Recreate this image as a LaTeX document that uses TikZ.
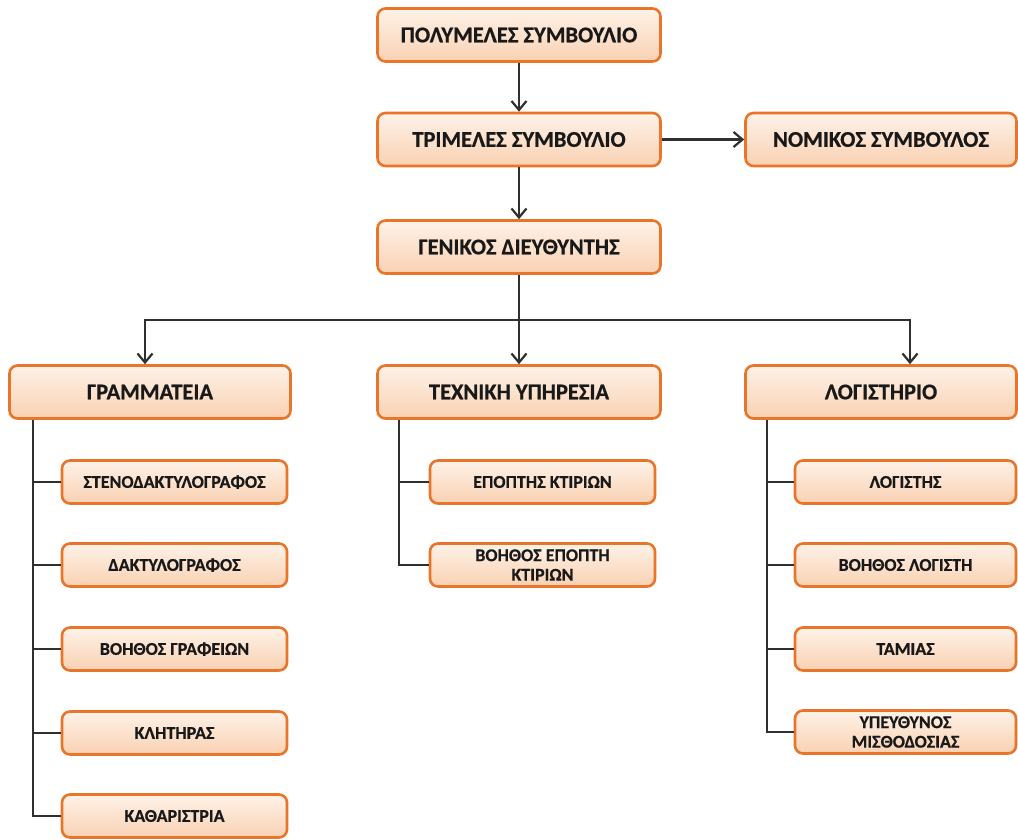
\documentclass[tikz,border=0pt]{standalone}
\usepackage{fontspec}
\setmainfont{Carlito}
\newfontfamily\heavyfont{Carlito}[BoldFeatures={FakeBold=0.6}]
\usetikzlibrary{arrows.meta,positioning}

\definecolor{boxline}{HTML}{E8752A}
\definecolor{boxtop}{HTML}{FEF2E8}
\definecolor{boxbot}{HTML}{F9D1B2}
\definecolor{wire}{HTML}{303030}

\tikzset{
  unit/.style={draw=boxline, line width=2.6pt, rounded corners=8pt,
    top color=boxtop, bottom color=boxbot, text=black!90,
    font=\fontsize{22.5}{24}\heavyfont\bfseries,
    minimum width=283pt, minimum height=53pt, inner sep=2pt},
  post/.style={unit, font=\fontsize{18}{19.5}\heavyfont\bfseries,
    minimum width=225pt, minimum height=43pt, align=center},
  link/.style={draw=wire, line width=2.2pt},
  arr/.style={link, -{Straight Barb[length=9pt,width=15pt,line width=2.2pt]}}
}

\begin{document}
\begin{tikzpicture}[x=1pt,y=-1pt]
\useasboundingbox (0,0) rectangle (1018,839);

% top of the chart
\node[unit] (poly) at (519,35) {ΠΟΛΥΜΕΛΕΣ ΣΥΜΒΟΥΛΙΟ};
\node[unit] (tri) at (519,139.5) {ΤΡΙΜΕΛΕΣ ΣΥΜΒΟΥΛΙΟ};
\node[unit, minimum width=271pt] (nom) at (881,139.5) {ΝΟΜΙΚΟΣ ΣΥΜΒΟΥΛΟΣ};
\node[unit] (gen) at (519,247) {ΓΕΝΙΚΟΣ ΔΙΕΥΘΥΝΤΗΣ};

% departments
\node[unit, minimum width=281pt] (gram) at (150,392) {ΓΡΑΜΜΑΤΕΙΑ};
\node[unit] (tech) at (519,392) {ΤΕΧΝΙΚΗ ΥΠΗΡΕΣΙΑ};
\node[unit, minimum width=271pt] (logi) at (881,392) {ΛΟΓΙΣΤΗΡΙΟ};

% posts
\foreach \i/\y/\txt in {1/482/ΣΤΕΝΟΔΑΚΤΥΛΟΓΡΑΦΟΣ, 2/565/ΔΑΚΤΥΛΟΓΡΑΦΟΣ,
    3/649/ΒΟΗΘΟΣ ΓΡΑΦΕΙΩΝ, 4/733/ΚΛΗΤΗΡΑΣ, 5/816/ΚΑΘΑΡΙΣΤΡΙΑ}
  \node[post] (g\i) at (174.5,\y) {\txt};
\node[post] (t1) at (542.5,482) {ΕΠΟΠΤΗΣ ΚΤΙΡΙΩΝ};
\node[post] (t2) at (542.5,565) {ΒΟΗΘΟΣ ΕΠΟΠΤΗ\\ΚΤΙΡΙΩΝ};
\foreach \i/\y/\txt in {1/482/ΛΟΓΙΣΤΗΣ, 2/565/ΒΟΗΘΟΣ ΛΟΓΙΣΤΗ,
    3/649/ΤΑΜΙΑΣ, 4/732/{ΥΠΕΥΘΥΝΟΣ\\ΜΙΣΘΟΔΟΣΙΑΣ}}
  \node[post, minimum width=221pt] (l\i) at (905.5,\y) {\txt};

\coordinate (busL) at (145,320);
\coordinate (busR) at (910,320);
\coordinate (sp1) at (33,0);
\coordinate (sp2) at (399,0);
\coordinate (sp3) at (767,0);

% arrows
\draw[arr] (poly) -- (tri);
\draw[arr] (tri) -- (nom);
\draw[arr] (tri) -- (gen);
\draw[arr] (gen.south) -- (tech.north);
\draw[arr] (gen.south) |- (busL) -- (busL |- gram.north);
\draw[arr] (gen.south) |- (busR) -- (busR |- logi.north);

% spines
\draw[link] (gram.south -| sp1) |- (g5.west);
\foreach \i in {1,...,4}
  \draw[link] (g\i.west -| sp1) -- (g\i.west);
\draw[link] (tech.south -| sp2) |- (t2.west);
\draw[link] (t1.west -| sp2) -- (t1.west);
\draw[link] (logi.south -| sp3) |- (l4.west);
\foreach \i in {1,...,3}
  \draw[link] (l\i.west -| sp3) -- (l\i.west);
\end{tikzpicture}
\end{document}
